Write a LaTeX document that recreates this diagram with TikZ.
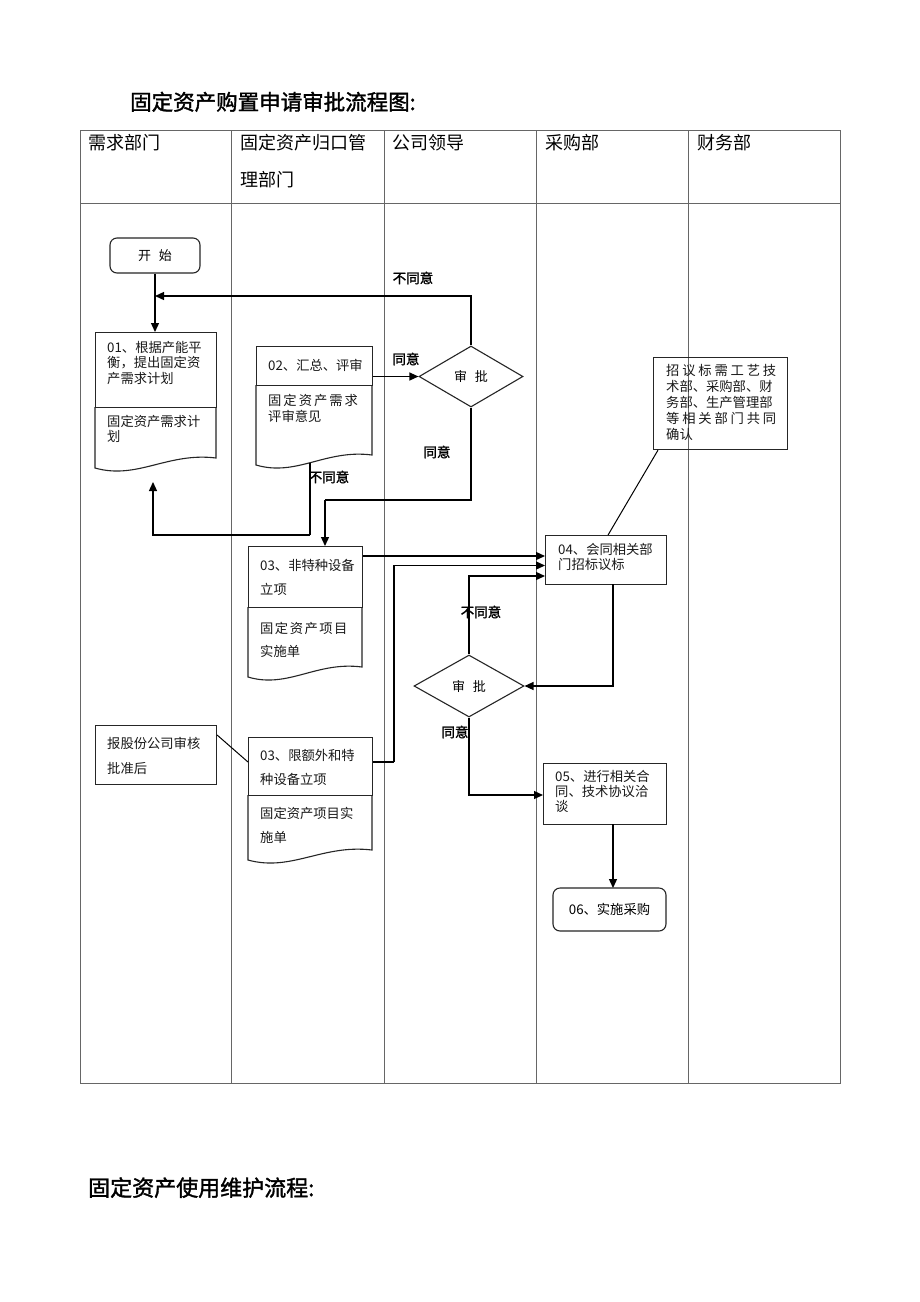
\documentclass[tikz,border=0pt]{standalone}
\usepackage{fontspec}
\setmainfont{Noto Sans CJK SC}[AutoFakeBold=1.6]
\usetikzlibrary{arrows.meta,shapes.geometric}
\tikzset{
  grid/.style={draw=black!60, line width=0.8pt},
  boxln/.style={draw=black!85, line width=1.1pt},
  conn/.style={draw=black, line width=1.3pt},
  arr/.style={conn, -{Triangle[length=9pt,width=8pt]}},
  txt/.style={anchor=base west, inner sep=0pt, align=left, text=black!90},
  lbl/.style={anchor=center, inner sep=0pt, font=\fontsize{13.5}{15}\selectfont\bfseries},
  hdr/.style={anchor=base west, inner sep=0pt, align=left, font=\fontsize{18}{37}\selectfont},
  ttl/.style={anchor=base west, inner sep=0pt, font=\fontsize{21.5}{24}\selectfont\bfseries},
  plainbox/.style={boxln, rectangle, inner sep=0pt},
  roundbox/.style={boxln, rectangle, rounded corners=7pt, inner sep=0pt},
  dia/.style={boxln, diamond, inner sep=0pt, font=\fontsize{13}{15}\selectfont}
}
\newcommand\docbottom[4]{% x0 x1 ytop yright
  \draw[boxln] (#1,#3) -- (#1,#4+10) .. controls (#1+0.35*#2-0.35*#1,#4+22) and (#1+0.6*#2-0.6*#1,#4-6) .. (#2,#4) -- (#2,#3);}
\begin{document}
\begin{tikzpicture}[x=1pt,y=-1pt]
\useasboundingbox[fill=white] (0,0) rectangle (920,1302);

% titles
\node[ttl] (title1) at (130,110) {固定资产购置申请审批流程图:};
\node[ttl, font=\fontsize{22}{24}\selectfont\bfseries] (title2) at (88,1196) {固定资产使用维护流程:};

% table
\draw[grid] (80,130) rectangle (840,1083);
\draw[grid] (80,203) -- (840,203);
\foreach \x in {231,384,536,688} \draw[grid] (\x,130) -- (\x,1083);
\node[hdr] (h1) at (88,149.5) {需求部门};
\node[hdr] (h2) at (240,186.5) {固定资产归口管\\理部门};
\node[hdr] (h3) at (392,149.5) {公司领导};
\node[hdr] (h4) at (545,149.5) {采购部};
\node[hdr] (h5) at (697,149.5) {财务部};

% start
\node[roundbox, minimum width=90pt, minimum height=35pt, font=\fontsize{13}{15}\selectfont] (start) at (155,255.5) {开\hspace{0.6em}始};

% 01
\node[plainbox, anchor=north west, minimum width=121pt, minimum height=75pt] (d01) at (95,332) {};
\docbottom{95}{216}{407}{458}
\node[txt, font=\fontsize{13.3}{15.5}\selectfont] (t01) at (107,383) {01、根据产能平\\衡，提出固定资\\产需求计划};
\node[txt, font=\fontsize{13.3}{15}\selectfont] (t01b) at (107,441) {固定资产需求计\\划};
\coordinate (j01b) at (153,482);

% 02
\node[plainbox, anchor=north west, minimum width=116pt, minimum height=39pt] (d02) at (256,346) {};
\docbottom{256}{372}{385}{455}
\node[txt, font=\fontsize{13.3}{15}\selectfont] (t02) at (268,370) {02、汇总、评审};
\node[txt, font=\fontsize{13.3}{16}\selectfont] (t02b) at (268,421) {固\hspace{2pt}定\hspace{2pt}资\hspace{2pt}产\hspace{2pt}需\hspace{2pt}求\\评审意见};
\coordinate (d02out) at (310,463);
\coordinate (j02) at (310,535);

% diamond 1
\node[dia, minimum width=104pt, minimum height=61pt] (dia1) at (471,376.5) {审\hspace{0.6em}批};
\coordinate (j1) at (155,296);
\coordinate (j2) at (325,500);

% 03a
\node[plainbox, anchor=north west, minimum width=114pt, minimum height=61pt] (d03a) at (248,546) {};
\docbottom{248}{362}{607}{667}
\node[txt, font=\fontsize{13.3}{24}\selectfont] (t03a) at (260,594) {03、非特种设备\\立项};
\node[txt, font=\fontsize{13.3}{23.5}\selectfont] (t03ab) at (260,656.5) {固\hspace{1.5pt}定\hspace{1.5pt}资\hspace{1.5pt}产\hspace{1.5pt}项\hspace{1.5pt}目\\实施单};

% 03b
\node[plainbox, anchor=north west, minimum width=124pt, minimum height=58pt] (d03b) at (248,737) {};
\docbottom{248}{372}{795}{850}
\node[txt, font=\fontsize{13.3}{24}\selectfont] (t03b) at (260,784) {03、限额外和特\\种设备立项};
\node[txt, font=\fontsize{13.3}{24}\selectfont] (t03bb) at (260,842) {固定资产项目实\\施单};
\coordinate (j03b) at (394,762);

% note left
\node[plainbox, anchor=north west, minimum width=121pt, minimum height=59pt] (nl) at (95,725) {};
\node[txt, font=\fontsize{13.3}{25}\selectfont] (tnl) at (107,773) {报股份公司审核\\批准后};

% 04
\node[plainbox, anchor=north west, minimum width=121pt, minimum height=49pt] (n04) at (545,535) {};
\node[txt, font=\fontsize{13.3}{15}\selectfont] (t04) at (558,569) {04、会同相关部\\门招标议标};

% note right
\node[plainbox, anchor=north west, minimum width=134pt, minimum height=92pt] (nr) at (653,357) {};
\node[txt, font=\fontsize{13.3}{16}\selectfont, text width=110pt] (tnr) at (666,375) {招\hfill 议\hfill 标\hfill 需\hfill 工\hfill 艺\hfill 技\\术部、采购部、财\\务部、生产管理部\\等\hfill 相\hfill 关\hfill 部\hfill 门\hfill 共\hfill 同\\确认};

% diamond 2
\node[dia, minimum width=110pt, minimum height=62pt] (dia2) at (469,686) {审\hspace{0.6em}批};

% 05
\node[plainbox, anchor=north west, minimum width=123pt, minimum height=61pt] (n05) at (543,763) {};
\node[txt, font=\fontsize{13.3}{15}\selectfont] (t05) at (555,811) {05、进行相关合\\同、技术协议洽\\谈};

% 06
\node[roundbox, minimum width=113pt, minimum height=43pt, font=\fontsize{13.3}{15}\selectfont] (n06) at (609.5,909.5) {06、实施采购};

% connectors
\draw[arr] (start.south) -- (start.south |- d01.north);
\draw[arr] (dia1.north) |- (j1);
\draw[arr] (d02.east |- dia1.west) -- (dia1.west);
\draw[conn] (dia1.south) |- (j2);
\draw[arr] (j2) -- (j2 |- d03a.north);
\draw[conn] (d02out) -- (j02);
\draw[arr] (j02) -| (j01b);
\draw[arr] (d03a.east |- 0,556) -- (n04.west |- 0,556);
\draw[conn] (d03b.east |- j03b) -- (j03b);
\draw[arr] (j03b) |- (n04.west |- 0,565.5);
\draw[arr] (dia2.north) |- (n04.west |- 0,576);
\draw[arr] (613,584) |- (dia2.east);
\draw[arr] (dia2.south) |- (n05.west |- 0,795);
\draw[arr] (613,824) -- (613,888);
\draw[conn, line width=1pt] ([xshift=5pt]nr.south west) -- ([xshift=2pt]n04.north);
\draw[conn, line width=1pt] ([yshift=-10pt]nl.north east) -- ([yshift=-25pt]d03b.north west);

% labels
\node[lbl] (l1) at (413,278) {不同意};
\node[lbl] (l2) at (406,359) {同意};
\node[lbl] (l3) at (437,452) {同意};
\node[lbl] (l4) at (329,477) {不同意};
\node[lbl] (l5) at (481,612) {不同意};
\node[lbl] (l6) at (455,732) {同意};
\end{tikzpicture}
\end{document}
